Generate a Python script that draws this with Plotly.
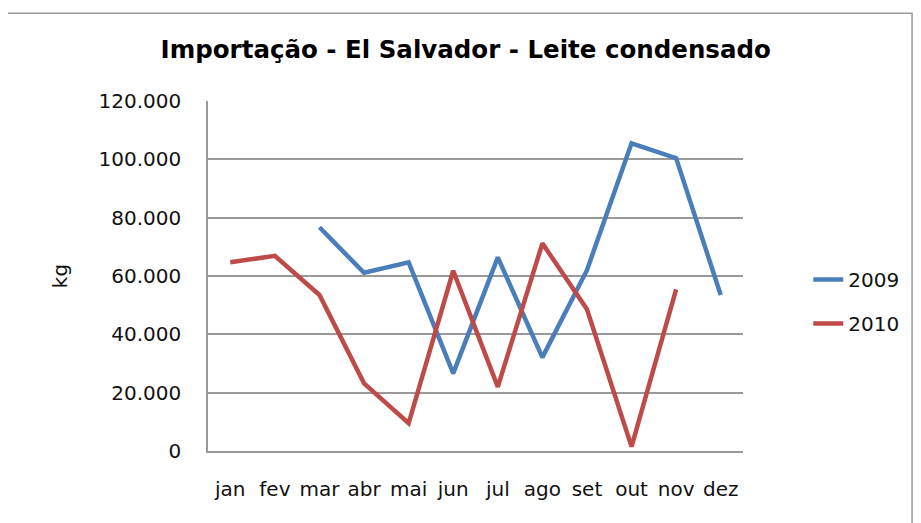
import plotly.graph_objects as go

# month labels (pt-BR) and monthly imports in kg
months = ["jan", "fev", "mar", "abr", "mai", "jun", "jul", "ago", "set", "out", "nov", "dez"]
kg_2009 = [None, None, 76700, 61100, 64700, 26600, 66400, 32100, 62000, 105500, 100400, 53500]
kg_2010 = [64700, 66900, 53500, 23200, 9500, 61800, 22000, 71200, 48600, 1500, 55400, None]
y_ticks = [0, 20000, 40000, 60000, 80000, 100000, 120000]

fnt = "DejaVu Sans, sans-serif"

fig = go.Figure()
fig.add_trace(go.Scatter(x=months, y=kg_2009, name="2009", mode="lines",
                         line=dict(color="#4a7ebb", width=4.5), legendgroup="a"))
fig.add_trace(go.Scatter(x=months, y=kg_2010, name="2010", mode="lines",
                         line=dict(color="#be4b48", width=4.5), legendgroup="b"))

fig.update_layout(
    width=921, height=523,
    margin=dict(l=200, r=186, t=93, b=80),
    paper_bgcolor="white", plot_bgcolor="white",
    separators=",.",
    font=dict(family=fnt, size=20, color="#111"),
    title=dict(text="<b>Importação - El Salvador - Leite condensado</b>",
               x=0.497, xanchor="center", y=0.921, yanchor="middle",
               font=dict(family=fnt, size=24.5, color="black")),
    showlegend=True,
    legend=dict(x=1.122, y=0.427, xanchor="left", yanchor="middle",
                traceorder="grouped", tracegroupgap=15,
                font=dict(family=fnt, size=20, color="#111"),
                bgcolor="rgba(0,0,0,0)"),
    shapes=[dict(type="rect", xref="paper", yref="paper",
                 x0=-0.381, x1=1.316, y0=-0.3, y1=1.251,
                 line=dict(color="#999", width=1.5))],
)
fig.update_xaxes(type="category", range=[-0.5, 11.5], showgrid=False,
                 showline=True, linecolor="#999", linewidth=1.5,
                 ticks="", ticklabelstandoff=19)
fig.update_yaxes(range=[0, 120000], tickvals=y_ticks, tickformat=",d",
                 showgrid=True, gridcolor="#999", gridwidth=1.5,
                 showline=True, linecolor="#999", linewidth=1.5,
                 ticks="", ticklabelstandoff=21, zeroline=False,
                 title=dict(text="kg", standoff=26,
                            font=dict(family=fnt, size=20, color="#111")))

fig.write_html("out.html")
